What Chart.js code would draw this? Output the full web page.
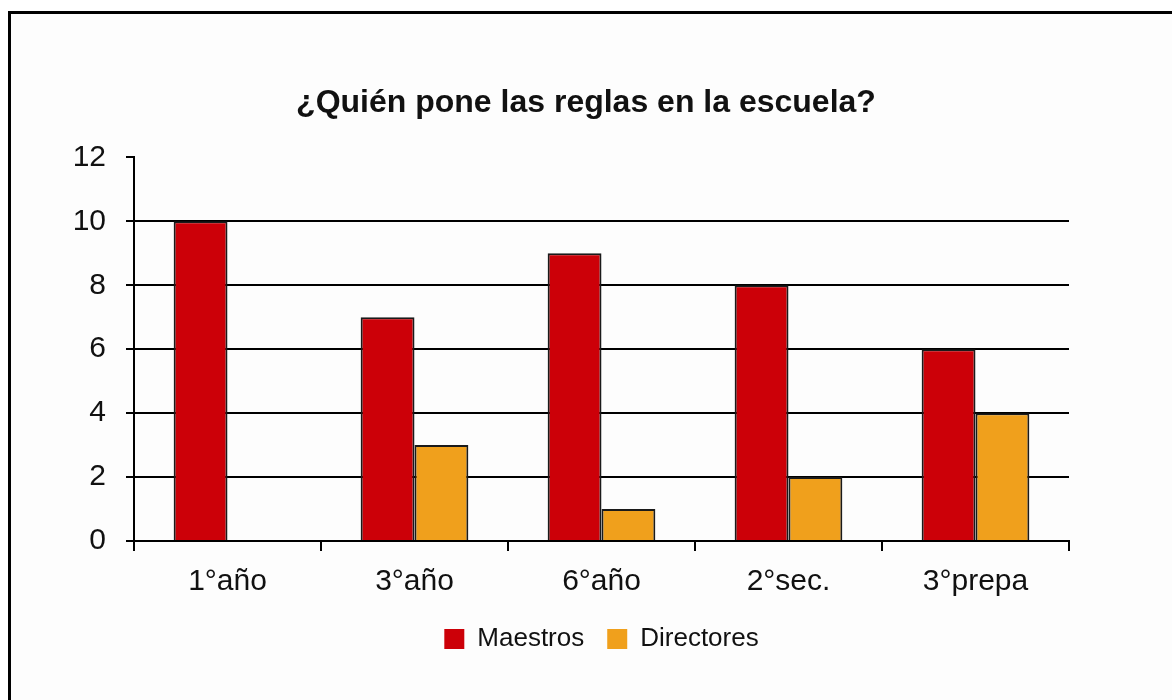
<!DOCTYPE html>
<html>
<head>
<meta charset="utf-8">
<script src="https://cdn.jsdelivr.net/npm/chart.js@4.4.1/dist/chart.umd.min.js"></script>
<style>
  html, body { margin: 0; padding: 0; background: #ffffff; }
  #wrap { position: relative; width: 1172px; height: 700px; overflow: hidden; background: #ffffff; }
  #frame { position: absolute; left: 8px; top: 11px; width: 1200px; height: 760px; border: 3px solid #000; background: #fdfdfd; box-sizing: border-box; }
  canvas { position: absolute; left: 0; top: 0; }
</style>
</head>
<body>
<div id="wrap">
  <div id="frame"></div>
  <canvas id="c" width="1172" height="700"></canvas>
</div>
<script>
const categories = ["1°año", "3°año", "6°año", "2°sec.", "3°prepa"];
const maestros = [10, 7, 9, 8, 6];
const directores = [0, 3, 1, 2, 4];
const seriesNames = ["Maestros", "Directores"];
const chartTitle = "¿Quién pone las reglas en la escuela?";

const FONT = "'Liberation Sans', Arial, sans-serif";

new Chart(document.getElementById('c'), {
  type: 'bar',
  data: {
    labels: categories,
    datasets: [
      { label: seriesNames[0], data: maestros, backgroundColor: '#CC0008', borderColor: '#1a1a1a', borderWidth: 2,
        categoryPercentage: 0.576, barPercentage: 1.0 },
      { label: seriesNames[1], data: directores, backgroundColor: '#F0A01C', borderColor: '#1a1a1a', borderWidth: 2,
        categoryPercentage: 0.576, barPercentage: 1.0 }
    ]
  },
  options: {
    responsive: false,
    devicePixelRatio: 1,
    animation: false,
    layout: { padding: { left: 20, right: 20, top: 0, bottom: 38 } },
    plugins: {
      title: {
        display: true, text: chartTitle, color: '#111',
        font: { family: FONT, size: 32, weight: 'bold' },
        padding: { top: 84, bottom: 35 }
      },
      legend: {
        position: 'bottom', fullSize: false,
        labels: {
          color: '#111', font: { family: FONT, size: 26 },
          boxWidth: 20, boxHeight: 20, padding: 23,
          generateLabels: (chart) => {
            const items = Chart.defaults.plugins.legend.labels.generateLabels(chart);
            items.forEach(it => { it.lineWidth = 0; it.strokeStyle = 'rgba(0,0,0,0)'; });
            return items;
          }
        }
      },
      tooltip: { enabled: false }
    },
    scales: {
      x: {
        offset: true,
        afterFit: (s) => { s.height = s.height - 10; },
        grid: { display: true, drawOnChartArea: false, offset: true, color: '#000', lineWidth: 2, tickLength: 10 },
        border: { display: true, color: '#000', width: 2 },
        ticks: { color: '#111', font: { family: FONT, size: 30 }, padding: 13, maxRotation: 0 }
      },
      y: {
        min: 0, max: 12,
        afterFit: (s) => { s.width = 114; },
        ticks: { stepSize: 2, color: '#111', font: { family: FONT, size: 30 }, padding: 20 },
        grid: {
          color: (ctx) => (ctx.tick && ctx.tick.value === 12) ? 'rgba(0,0,0,0)' : '#000',
          tickColor: '#000', lineWidth: 2, tickLength: 8
        },
        border: { display: true, color: '#000', width: 2 }
      },
      yRight: {
        type: 'linear', position: 'right', min: 0, max: 12,
        afterFit: (s) => { s.width = 83; },
        grid: { display: false },
        border: { display: false },
        ticks: { display: false }
      }
    }
  }
});
</script>
</body>
</html>
